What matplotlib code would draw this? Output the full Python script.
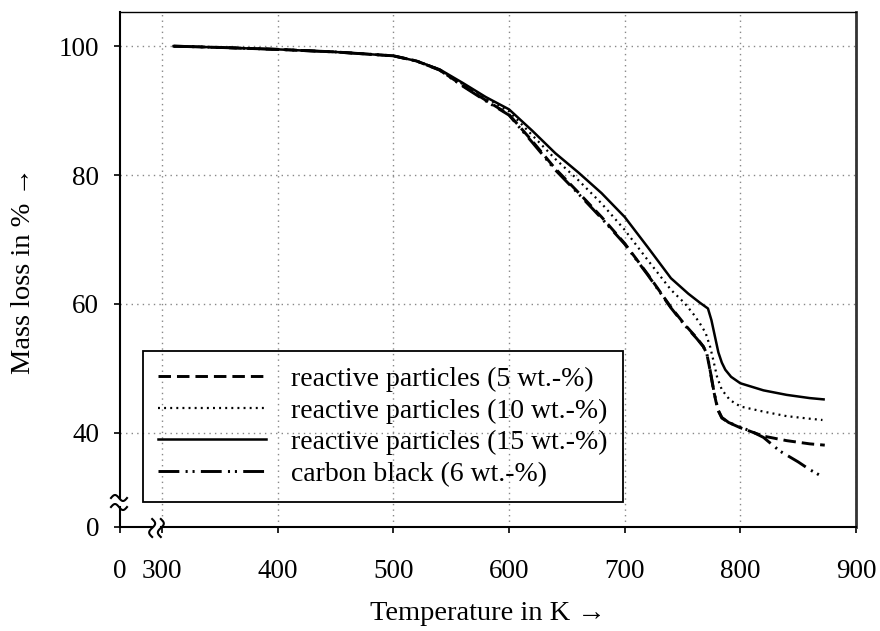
import numpy as np
import matplotlib
matplotlib.use("Agg")
import matplotlib.pyplot as plt

plt.rcParams["font.family"] = ["Liberation Serif", "DejaVu Serif"]
plt.rcParams["lines.scale_dashes"] = False

# Thermogravimetric curves (temperature in K, mass in %)
temp_5 = [310, 350, 400, 450, 500, 520, 540, 560, 580, 600, 620, 640, 660, 680,
          700, 720, 740, 752, 762, 768, 771, 773, 775, 777, 779, 781, 784, 790,
          800, 820, 840, 860, 873]
mass_5 = [100, 99.8, 99.5, 99.1, 98.5, 97.7, 96.3, 93.9, 91.6, 89.4, 85.3, 81.0,
          77.3, 73.5, 69.4, 64.6, 59.5, 56.8, 54.8, 53.4, 52.3, 50.5, 48.5, 46.5,
          44.8, 43.4, 42.3, 41.6, 40.8, 39.5, 38.8, 38.3, 38.1]

temp_10 = [310, 350, 400, 450, 500, 520, 540, 560, 580, 600, 620, 640, 660, 680,
           700, 720, 740, 752, 760, 765, 770, 774, 777, 780, 784, 791, 800, 820,
           840, 860, 871]
mass_10 = [100, 99.8, 99.5, 99.1, 98.5, 97.7, 96.4, 94.1, 92.0, 89.9, 86.2, 82.5,
           79.2, 75.6, 71.5, 66.8, 62.2, 60.1, 58.3, 57.0, 55.5, 53.3, 51.0, 48.6,
           46.7, 45.1, 44.1, 43.3, 42.6, 42.2, 42.0]

temp_15 = [310, 350, 400, 450, 500, 520, 540, 560, 580, 600, 620, 640, 660, 680,
           700, 720, 740, 755, 765, 772, 775, 778, 781, 784, 787, 792, 800, 820,
           840, 860, 872]
mass_15 = [100, 99.8, 99.5, 99.1, 98.5, 97.7, 96.4, 94.3, 92.1, 90.2, 86.9, 83.4,
           80.4, 77.2, 73.5, 68.8, 64.0, 61.6, 60.2, 59.3, 57.5, 55.0, 52.5, 50.9,
           49.8, 48.7, 47.7, 46.6, 45.9, 45.4, 45.2]

temp_cb = [310, 350, 400, 450, 500, 520, 540, 560, 580, 600, 620, 640, 660, 680,
           700, 720, 740, 752, 762, 768, 771, 773, 775, 777, 779, 781, 784, 790,
           800, 810, 820, 834, 850, 860, 870]
mass_cb = [100, 99.8, 99.5, 99.1, 98.5, 97.7, 96.3, 93.8, 91.5, 89.3, 85.1, 80.8,
           77.1, 73.3, 69.3, 64.5, 59.4, 56.7, 54.7, 53.4, 52.3, 50.6, 48.6, 46.6,
           44.9, 43.5, 42.4, 41.6, 40.9, 40.2, 39.3, 37.2, 35.5, 34.3, 33.3]

labels = ["reactive particles (5 wt.-%)", "reactive particles (10 wt.-%)",
          "reactive particles (15 wt.-%)", "carbon black (6 wt.-%)"]

# broken axes: the "0" tick sits at the lower axis limit
x_zero_pos = 263.7
y_zero_pos = 25.4
x_ticks = [300, 400, 500, 600, 700, 800, 900]
y_ticks = [40, 60, 80, 100]
x_break = (291.5, 299.0)
y_break = (28.5, 29.9)

fig = plt.figure(figsize=(8.8, 6.31), dpi=100)
ax = fig.add_axes([120 / 880, 1 - 527 / 631, 736 / 880, 515 / 631])

ax.plot(temp_5, mass_5, color="black", lw=2.1, ls=(0, (9, 4.3)), label=labels[0])
ax.plot(temp_10, mass_10, color="black", lw=1.6, ls=(0, (1.4, 3.0)), label=labels[1])
ax.plot(temp_15, mass_15, color="black", lw=1.8, ls="-", label=labels[2])
ax.plot(temp_cb, mass_cb, color="black", lw=2.1,
        ls=(0, (15, 4.5, 1.5, 3.5, 1.5, 4.5)), label=labels[3])

ax.set_xlim(x_zero_pos, 900)
ax.set_ylim(y_zero_pos, 105.3)
ax.set_xticks([x_zero_pos] + x_ticks)
ax.set_xticklabels(["0"] + [str(t) for t in x_ticks])
ax.set_yticks([y_zero_pos] + y_ticks)
ax.set_yticklabels(["0"] + [str(t) for t in y_ticks])
ax.tick_params(direction="out", length=4, width=1.2, labelsize=19.5)
ax.tick_params(axis="y", pad=11)
ax.tick_params(axis="x", pad=19)

ax.grid(True, ls=(0, (1, 3)), color="#888888", lw=1.0)
ax.xaxis.get_gridlines()[0].set_visible(False)
ax.yaxis.get_gridlines()[0].set_visible(False)

for side in ["left", "bottom"]:
    ax.spines[side].set_visible(False)
ax.spines["top"].set_linewidth(1.0)
ax.spines["right"].set_linewidth(2.0)
ax.spines["right"].set_color("#333333")

# spines drawn in pieces with a gap at the break
yax = ax.get_yaxis_transform()
xax = ax.get_xaxis_transform()
kw = dict(color="black", lw=1.5, clip_on=False, zorder=5)
ax.plot([0, 0], [y_zero_pos, y_break[0]], transform=yax, **kw)
ax.plot([0, 0], [y_break[1], 105.3], transform=yax, **kw)
ax.plot([x_zero_pos, x_break[0]], [0, 0], transform=xax, **kw)
ax.plot([x_break[1], 900], [0, 0], transform=xax, **kw)

# squiggly break marks, drawn in pixel space around the break points
s = np.linspace(-1, 1, 30)
wave = 3.0 * np.sin(np.pi * s)
inv = ax.transData.inverted()
for yb in y_break:
    cx, cy = ax.transData.transform((x_zero_pos, yb))
    pts = inv.transform(np.column_stack([cx - 1 + 8 * s, cy - wave]))
    ax.plot(pts[:, 0], pts[:, 1], **kw)
for xb in x_break:
    cx, cy = ax.transData.transform((xb, y_zero_pos))
    pts = inv.transform(np.column_stack([cx + wave, cy - 1 + 9 * s]))
    ax.plot(pts[:, 0], pts[:, 1], **kw)

leg = ax.legend(loc="lower left", bbox_to_anchor=(0.031, 0.0485), borderaxespad=0,
                fontsize=20, handlelength=3.9, handletextpad=0.9,
                labelspacing=0.22, borderpad=0.55, fancybox=False,
                edgecolor="black", facecolor="none", framealpha=1)
leg.get_frame().set_linewidth(1.3)

ax.set_xlabel("Temperature in K \u2192", fontsize=20.5, labelpad=12)
fig.text(24 / 880, 1 - 270 / 631, "Mass loss in % \u2192", rotation=90,
         ha="center", va="center", fontsize=20.5)

fig.savefig("out.png", dpi=100)
